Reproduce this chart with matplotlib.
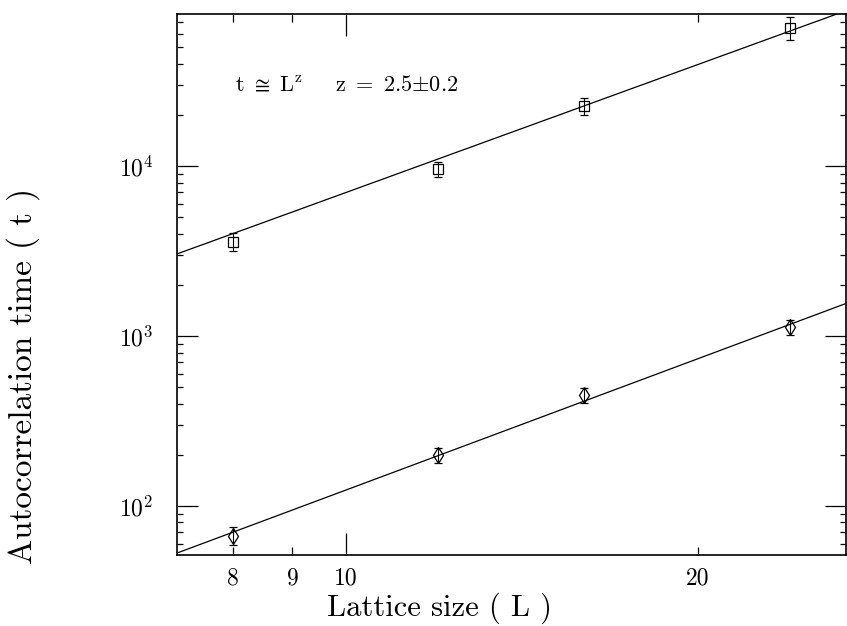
import numpy as np
import matplotlib
matplotlib.use('Agg')
import matplotlib.pyplot as plt
from matplotlib.ticker import FixedLocator, FixedFormatter, LogLocator, NullFormatter

plt.rcParams['mathtext.fontset'] = 'cm'

# data
L = [8, 12, 16, 24]
tau_sq = [3600, 9600, 22500, 65000]
err_sq = [450, 1000, 2500, 10000]
tau_di = [67, 200, 450, 1130]
err_di = [8, 20, 45, 110]

# power-law fits t = a * L**z
fit_sq = (22.1, 2.5)
fit_di = (0.338, 2.565)

x_major = [10]
x_major_labels = ['10']
x_minor = [8, 9, 20]
x_minor_labels = ['8', '9', '20']
y_major = [1e2, 1e3, 1e4]
y_labels = [r'$10^{2}$', r'$10^{3}$', r'$10^{4}$']

fig = plt.figure(figsize=(8.47, 6.26), dpi=100)
ax = fig.add_axes([0.209, 0.1134, 0.790, 0.865])
ax.set_xscale('log')
ax.set_yscale('log')
xlim = (7.17, 26.8)
ax.set_xlim(*xlim)
ax.set_ylim(51.5, 7.9e4)

Lfit = np.logspace(np.log10(xlim[0]), np.log10(xlim[1]), 100)
for a, z in (fit_sq, fit_di):
    ax.plot(Lfit, a * Lfit**z, color='black', lw=0.9)

ax.errorbar(L, tau_sq, yerr=err_sq, fmt='s', mfc='none', mec='black', ms=7.5,
            mew=0.9, ecolor='black', elinewidth=0.8, capsize=3.2, capthick=0.8)
ax.errorbar(L, tau_di, yerr=err_di, fmt='d', mfc='none', mec='black', ms=8,
            mew=0.9, ecolor='black', elinewidth=0.8, capsize=3.2, capthick=0.8)

ax.xaxis.set_major_locator(FixedLocator(x_major))
ax.xaxis.set_major_formatter(FixedFormatter(x_major_labels))
ax.xaxis.set_minor_locator(FixedLocator(x_minor))
ax.xaxis.set_minor_formatter(FixedFormatter(x_minor_labels))
ax.yaxis.set_major_locator(FixedLocator(y_major))
ax.yaxis.set_major_formatter(FixedFormatter(y_labels))
ax.yaxis.set_minor_locator(LogLocator(base=10, subs=np.arange(2, 10)))
ax.yaxis.set_minor_formatter(NullFormatter())

ax.tick_params(which='both', direction='in', top=True, right=True, width=0.9)
ax.tick_params(axis='x', which='major', length=16, pad=9, labelsize=17)
ax.tick_params(axis='x', which='minor', length=5.5, pad=9, labelsize=17)
ax.tick_params(axis='y', which='major', length=15, pad=17, labelsize=17)
ax.tick_params(axis='y', which='minor', length=4.5)
for lab in ax.get_xticklabels(which='both'):
    lab.set_fontfamily('cmr10')

for s in ax.spines.values():
    s.set_linewidth(1.2)

ax.set_xlabel('Lattice size ( L )', fontfamily='cmr10', fontsize=22)
ax.xaxis.set_label_coords(0.393, -0.07)
ax.set_ylabel('Autocorrelation time ( t )', fontfamily='cmr10', fontsize=24)
ax.yaxis.set_label_coords(-0.205, 0.33)

ax.text(0.087, 0.868,
        r'$\mathrm{t}\ \cong\ \mathrm{L}^{\mathrm{z}}\quad\ \ \mathrm{z}\ =\ 2.5{\pm}0.2$',
        transform=ax.transAxes, ha='left', va='center', fontsize=16)

fig.savefig('out.png', dpi=100)
